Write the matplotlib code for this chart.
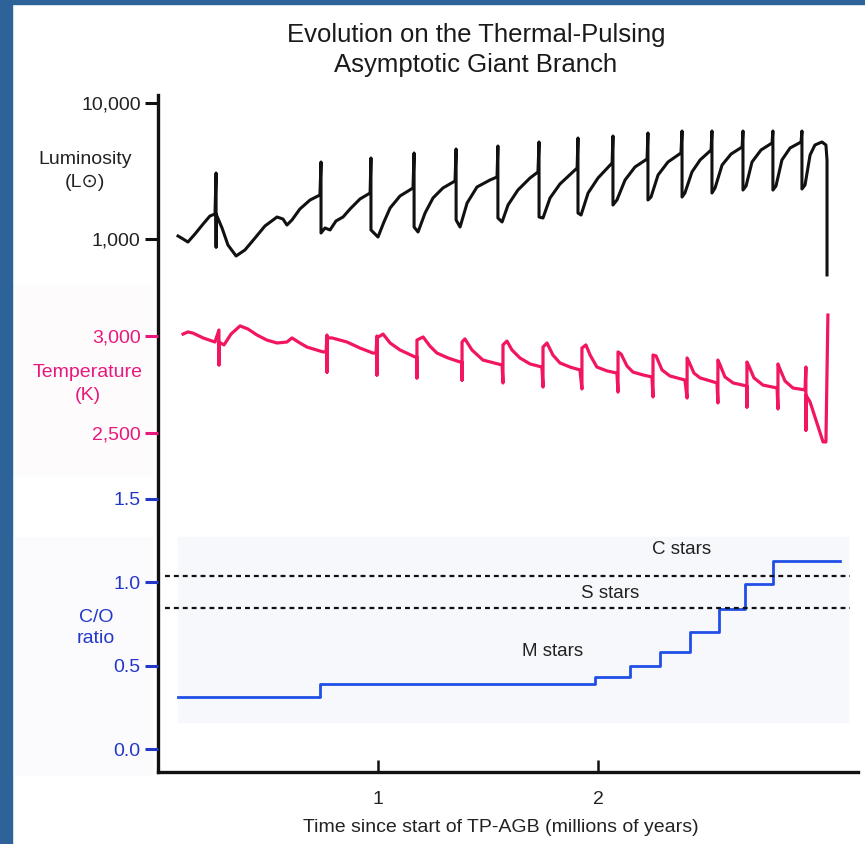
import matplotlib
matplotlib.use("Agg")
import matplotlib.pyplot as plt
from matplotlib.patches import Rectangle
import numpy as np

# ---------------- data ----------------
# time in millions of years since start of TP-AGB
lum_time = [0.091, 0.114, 0.136, 0.168, 0.205, 0.236, 0.259, 0.264, 0.264, 0.264,
            0.291, 0.318, 0.355, 0.395, 0.441, 0.486, 0.541, 0.568, 0.586, 0.609,
            0.645, 0.691, 0.736, 0.741, 0.741, 0.759, 0.782, 0.809, 0.841, 0.873,
            0.918, 0.964, 0.968, 0.968, 1.000, 1.027, 1.055, 1.100, 1.159, 1.164,
            1.164, 1.182, 1.214, 1.250, 1.295, 1.350, 1.355, 1.355, 1.373, 1.405,
            1.450, 1.509, 1.541, 1.545, 1.545, 1.564, 1.591, 1.636, 1.691, 1.727,
            1.732, 1.732, 1.750, 1.782, 1.827, 1.905, 1.909, 1.909, 1.923, 1.955,
            2.000, 2.064, 2.068, 2.068, 2.086, 2.123, 2.168, 2.223, 2.227, 2.227,
            2.241, 2.273, 2.318, 2.377, 2.382, 2.382, 2.395, 2.427, 2.464, 2.514,
            2.518, 2.518, 2.532, 2.564, 2.605, 2.655, 2.659, 2.659, 2.673, 2.700,
            2.741, 2.791, 2.795, 2.795, 2.809, 2.836, 2.873, 2.923, 2.927, 2.927,
            2.941, 2.964, 2.986, 3.018, 3.036, 3.041, 3.041]
# luminosity in solar units
lum_value = [1052, 1000, 950, 1088, 1289, 1476, 1527, 3057, 873, 1527,
             1205, 903, 750, 830, 1017, 1246, 1451, 1403, 1267, 1380,
             1662, 1935, 2106, 3683, 1107, 1205, 1165, 1357, 1451, 1662,
             1968, 2179, 3941, 1165, 1034, 1334, 1690, 2071, 2371, 4289,
             1225, 1126, 1553, 2002, 2371, 2670, 4590, 1380, 1225, 1839,
             2412, 2715, 2857, 4829, 1427, 1334, 1778, 2292, 2809, 3109,
             5167, 1451, 1427, 2002, 2537, 3327, 5529, 1553, 1501, 2179,
             2809, 3621, 5720, 1778, 1935, 2715, 3384, 3875, 6018, 1935,
             2036, 2955, 3683, 4289, 6225, 2036, 2179, 3109, 3810, 4512,
             6225, 2179, 2371, 3500, 4217, 4747, 6225, 2292, 2453, 3683,
             4512, 5081, 6225, 2292, 2453, 3810, 4668, 5167, 6225, 2332,
             2495, 4146, 4911, 5167, 4911, 3810, 544]

temp_time = [0.114, 0.136, 0.159, 0.205, 0.259, 0.277, 0.277, 0.277, 0.300, 0.332,
             0.373, 0.409, 0.450, 0.495, 0.541, 0.586, 0.609, 0.645, 0.677, 0.750,
             0.764, 0.768, 0.768, 0.768, 0.791, 0.827, 0.859, 0.918, 0.977,
             0.991, 0.995, 0.995, 0.995, 1.023, 1.055, 1.100, 1.168,
             1.177, 1.177, 1.177, 1.205, 1.236, 1.268, 1.318, 1.373,
             1.382, 1.382, 1.382, 1.395, 1.427, 1.477, 1.545,
             1.564, 1.568, 1.568, 1.586, 1.609, 1.645, 1.691, 1.745,
             1.750, 1.750, 1.768, 1.795, 1.827, 1.873, 1.918,
             1.927, 1.927, 1.945, 1.964, 1.995, 2.041, 2.086,
             2.091, 2.091, 2.105, 2.132, 2.159, 2.205, 2.245,
             2.250, 2.250, 2.264, 2.291, 2.327, 2.395,
             2.405, 2.405, 2.414, 2.436, 2.464, 2.541,
             2.545, 2.545, 2.555, 2.577, 2.614, 2.677,
             2.677, 2.677, 2.686, 2.709, 2.750, 2.814,
             2.818, 2.818, 2.827, 2.850, 2.886, 2.941,
             2.945, 2.945, 2.945, 2.964, 3.023, 3.036, 3.045]
# effective temperature in K
temp_value = [3010, 3021, 3015, 2990, 2969, 3031, 2851, 2969, 2954, 3010,
              3052, 3036, 3005, 2979, 2964, 2969, 2990, 2964, 2943, 2918,
              2918, 3005, 2814, 2990, 2990, 2979, 2969, 2938, 2912,
              2912, 3000, 2799, 2990, 3010, 2964, 2928, 2892,
              2892, 2784, 2979, 2995, 2948, 2912, 2887, 2866,
              2866, 2773, 2969, 2985, 2928, 2876, 2856,
              2851, 2758, 2954, 2974, 2928, 2887, 2856, 2840,
              2737, 2943, 2964, 2902, 2861, 2840, 2825,
              2727, 2938, 2954, 2902, 2840, 2820, 2809,
              2711, 2918, 2907, 2845, 2814, 2799, 2789,
              2686, 2902, 2897, 2825, 2794, 2773,
              2680, 2887, 2866, 2809, 2784, 2758,
              2655, 2876, 2851, 2789, 2758, 2742,
              2634, 2866, 2845, 2784, 2747, 2732,
              2624, 2856, 2830, 2768, 2732, 2722,
              2840, 2515, 2696, 2660, 2454, 2454, 3108]

co_time = [0.091, 0.736, 1.986, 2.145, 2.282, 2.418, 2.550, 2.668, 2.795, 3.100]
co_value = [0.31, 0.39, 0.43, 0.50, 0.58, 0.70, 0.84, 0.99, 1.13, 1.13]
co_thresholds = [1.035, 0.843]

x_ticks = [1, 2]
lum_ticks = [1000, 10000]
lum_tick_labels = ["1,000", "10,000"]
temp_ticks = [2500, 3000]
temp_tick_labels = ["2,500", "3,000"]
co_ticks = [0.0, 0.5, 1.0, 1.5]
co_tick_labels = ["0.0", "0.5", "1.0", "1.5"]

# ---------------- style ----------------
plt.rcParams['font.family'] = ['Liberation Sans', 'DejaVu Sans']
W, H = 865, 844
BLACK = "#111111"
PINK = "#e8197c"
PINK_LINE = "#f2155f"
BLUE = "#2438c8"
BLUE_LINE = "#1f4fe6"


def box(x0, y0, x1, y1):
    return [x0 / W, 1 - y1 / H, (x1 - x0) / W, (y1 - y0) / H]


def px_to_t(px):
    return (px - 158) / 220.0


fig = plt.figure(figsize=(W / 100, H / 100), dpi=100)
fig.patch.set_facecolor("white")

# faint background panels (behind everything)
for (x0, y0, x1, y1, c) in [(12, 285, 152, 475, "#fefbfc"),
                            (15, 537, 152, 775, "#fbfbfe"),
                            (178, 537, 848, 722, "#f7f8fc")]:
    fig.patches.append(Rectangle((x0 / W, 1 - y1 / H), (x1 - x0) / W, (y1 - y0) / H,
                                 transform=fig.transFigure, color=c, zorder=-10))
# blue border
fig.patches.append(Rectangle((0, 0), 12 / W, 1, transform=fig.transFigure,
                             color="#2e6399", zorder=-5))
fig.patches.append(Rectangle((0, 1 - 4 / H), 1, 4 / H, transform=fig.transFigure,
                             color="#2e6399", zorder=-5))

XL = (0, px_to_t(858))

# frame axes
ax = fig.add_axes(box(158, 95, 858, 772))
ax.set_facecolor("none")
ax.set_xlim(*XL)
ax.set_ylim(0, 1)
for s in ["top", "right"]:
    ax.spines[s].set_visible(False)
for s in ["left", "bottom"]:
    ax.spines[s].set_linewidth(2.4)
    ax.spines[s].set_color(BLACK)
ax.set_yticks([])
ax.set_xticks(x_ticks)
ax.set_xticklabels([str(v) for v in x_ticks])
ax.tick_params(axis="x", direction="in", length=9, width=1.8, color=BLACK,
               labelsize=14, pad=14, labelcolor="#222222")


def overlay(y0, y1):
    a = fig.add_axes(box(158, y0, 858, y1))
    a.set_facecolor("none")
    for s in a.spines.values():
        s.set_visible(False)
    a.set_xlim(*XL)
    a.set_xticks([])
    return a


# luminosity
axL = overlay(95, 290)
axL.set_yscale("log")
axL.set_ylim(10 ** (4 - (290 - 103) / 136), 10 ** (4 - (95 - 103) / 136))
axL.plot(lum_time, lum_value, color=BLACK, lw=2.2, solid_joinstyle="round")
axL.set_yticks(lum_ticks)
axL.set_yticklabels(lum_tick_labels)
axL.minorticks_off()
axL.tick_params(axis="y", direction="out", length=9.5, width=2.2, color=BLACK,
                labelsize=14, pad=3, labelcolor="#222222")

# temperature
axT = overlay(290, 470)
axT.set_ylim(3000 - (470 - 336) * 500 / 97, 3000 - (290 - 336) * 500 / 97)
axT.plot(temp_time, temp_value, color=PINK_LINE, lw=2.3, solid_joinstyle="round")
axT.set_yticks(temp_ticks)
axT.set_yticklabels(temp_tick_labels)
axT.tick_params(axis="y", direction="out", length=9.5, width=2.2, color=PINK,
                labelsize=14, pad=3, labelcolor=PINK)

# C/O ratio
axC = overlay(470, 772)
axC.set_ylim((749 - 772) / 166.7, (749 - 470) / 166.7)
axC.step(co_time, co_value, where="post", color=BLUE_LINE, lw=2.0)
axC.hlines(co_thresholds, px_to_t(165), px_to_t(850), colors=BLACK,
           linestyles=(0, (2.2, 1.8)), lw=1.6)
axC.set_yticks(co_ticks)
axC.set_yticklabels(co_tick_labels)
axC.tick_params(axis="y", direction="out", length=9.5, width=2.2, color=BLUE,
                labelsize=14, pad=3, labelcolor=BLUE)
axC.text(px_to_t(682), (749 - 549) / 166.7, "C stars", ha="center", va="center",
         fontsize=13.5, color="#222222")
axC.text(px_to_t(610), (749 - 593) / 166.7, "S stars", ha="center", va="center",
         fontsize=13.5, color="#222222")
axC.text(px_to_t(553), (749 - 651) / 166.7, "M stars", ha="center", va="center",
         fontsize=13.5, color="#222222")

# left axis descriptions
fig.text(85 / W, 1 - 171 / H, "Luminosity\n(L\u2299)", ha="center", va="center",
         fontsize=14, color="#222222", linespacing=1.45)
fig.text(88 / W, 1 - 384 / H, "Temperature\n(K)", ha="center", va="center",
         fontsize=14, color=PINK, linespacing=1.4)
fig.text(96 / W, 1 - 628 / H, "C/O\nratio", ha="center", va="center",
         fontsize=14, color=BLUE, linespacing=1.3)

# title and x label
fig.text(476 / W, 1 - 50 / H, "Evolution on the Thermal-Pulsing\nAsymptotic Giant Branch",
         ha="center", va="center", fontsize=18.5, color="#1a1a1a", linespacing=1.3)
fig.text(501 / W, 1 - 827 / H, "Time since start of TP-AGB (millions of years)",
         ha="center", va="center", fontsize=14, color="#222222")

fig.savefig("out.png", dpi=100, facecolor="white")
